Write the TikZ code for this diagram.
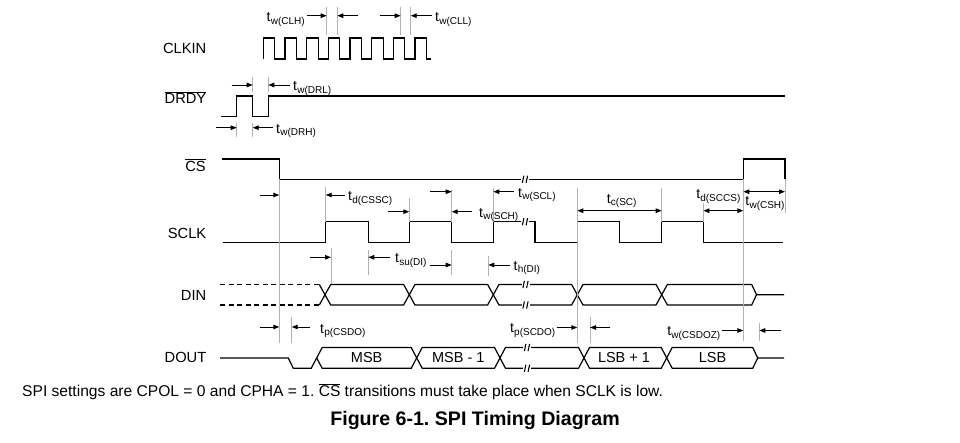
\documentclass[tikz,border=0pt]{standalone}
\usepackage{fontspec}
\setmainfont{Liberation Sans}
\usetikzlibrary{arrows.meta}
\frenchspacing
\newcommand\tsb[2]{#1\kern0.2pt\raisebox{-2.6pt}{\fontsize{10}{11}\selectfont #2}}
\newcommand\ovl[1]{$\overline{\mbox{#1}}$}
\newcommand\brk[2]{%
  \begin{scope}[shift={(#1,#2)}]
    \fill[white] (-4,-2.2) rectangle (4,2.2);
    \draw[line width=1.1pt] (-2.6,3.6) .. controls (-2.9,0.5) and (-0.9,-0.5) .. (-1.1,-3.6);
    \draw[line width=1.1pt] (1.1,3.6) .. controls (0.8,0.5) and (2.8,-0.5) .. (2.6,-3.6);
  \end{scope}}
\tikzset{
  sig/.style={line width=1.2pt, line join=miter},
  tk/.style={gray!60, line width=0.6pt},
  ar/.style={line width=0.9pt, -{Triangle[length=6pt,width=4.5pt]}},
  dar/.style={line width=0.9pt, {Triangle[length=6pt,width=4.5pt]}-{Triangle[length=6pt,width=4.5pt]}},
  lab/.style={font=\fontsize{14.7}{17}\selectfont, inner sep=0pt, anchor=east},
  tl/.style={font=\fontsize{14}{16}\selectfont, inner sep=0pt},
}
\begin{document}
\begin{tikzpicture}[x=1pt,y=-1pt]
\useasboundingbox[fill=white] (0,0) rectangle (960,443);

% ---------- signal names ----------
\node[lab] (nclk) at (206.5,48) {CLKIN};
\node[lab] (ndrdy) at (206.5,97.5) {\ovl{DRDY}};
\node[lab] (ncs) at (206,165) {\ovl{CS}};
\node[lab] (nsclk) at (206.5,233) {SCLK};
\node[lab] (ndin) at (206.5,295) {DIN};
\node[lab] (ndout) at (206.5,357) {DOUT};

% ---------- CLKIN ----------
\draw[sig] (263.3,59) \foreach \k in {0,...,6} { -- ++(0,-21) -- ++(11.5,0) -- ++(0,21) -- ++(10.17,0) }
  -- ++(0,-21) -- ++(11.5,0) -- ++(0,21) -- ++(5,0);
\draw[tk] (326.7,6.7) -- (326.7,35);
\draw[tk] (337.3,6.7) -- (337.3,35);
\draw[tk] (400.7,6.7) -- (400.7,35);
\draw[tk] (410.7,6.7) -- (410.7,35);
\draw[ar] (306.7,15.7) -- (326.7,15.7);
\draw[ar] (358.3,15.7) -- (337.3,15.7);
\draw[ar] (380,15.7) -- (400.7,15.7);
\draw[ar] (431.7,15.7) -- (410.7,15.7);
\node[tl,anchor=west] (lclh) at (266.5,19.5) {\tsb{t}{w(CLH)}};
\node[tl,anchor=west] (lcll) at (435,19.5) {\tsb{t}{w(CLL)}};

% ---------- DRDY ----------
\draw[sig] (221,116.7) -- (236.7,116.7) -- (236.7,96) -- (252.7,96) -- (252.7,116.7)
  -- (268.3,116.7) -- (268.3,96) -- (785,96);
\draw[tk] (252.7,77) -- (252.7,92);
\draw[tk] (268.3,77) -- (268.3,92);
\draw[ar] (231.7,85) -- (252.7,85);
\draw[ar] (290,85) -- (268.3,85);
\node[tl,anchor=west] (ldrl) at (293,88.5) {\tsb{t}{w(DRL)}};
\draw[tk] (236.7,123) -- (236.7,137);
\draw[tk] (252.7,123) -- (252.7,137);
\draw[ar] (216,127.7) -- (236.7,127.7);
\draw[ar] (273,127.7) -- (252.7,127.7);
\node[tl,anchor=west] (ldrh) at (276,131) {\tsb{t}{w(DRH)}};

% ---------- CS ----------
\draw[sig] (221.7,159) -- (279.3,159) -- (279.3,179.3) -- (743.3,179.3) -- (743.3,159) -- (785,159) -- (785,179.3);

% ---------- SCLK ----------
\draw[sig] (222.7,242.7) -- (325.7,242.7) -- (325.7,221.7) -- (368.3,221.7) -- (368.3,242.7)
  -- (409.3,242.7) -- (409.3,221.7) -- (451.7,221.7) -- (451.7,242.7)
  -- (493.3,242.7) -- (493.3,221.7) -- (535,221.7) -- (535,242.7)
  -- (577.3,242.7) -- (577.3,221.7) -- (619.3,221.7) -- (619.3,242.7)
  -- (661.7,242.7) -- (661.7,221.7) -- (703.3,221.7) -- (703.3,242.7) -- (783.3,242.7);

% ---------- DIN ----------
\draw[line width=1.1pt, dash pattern=on 5pt off 3.5pt] (220,284.5) -- (319.3,284.5);
\draw[line width=1.1pt, dash pattern=on 5pt off 3.5pt] (220,305) -- (319.3,305);
\draw[sig] (319.3,284.5) -- (330.7,305) -- (403.6,305) -- (415,284.5) -- (487.6,284.5) -- (499,305)
  -- (571.6,305) -- (583,284.5) -- (656,284.5) -- (667.4,305) -- (751.7,305) -- (756.5,294.7);
\draw[sig] (319.3,305) -- (330.7,284.5) -- (403.6,284.5) -- (415,305) -- (487.6,305) -- (499,284.5)
  -- (571.6,284.5) -- (583,305) -- (656,305) -- (667.4,284.5) -- (751.7,284.5) -- (756.5,294.7) -- (784,294.7);

% ---------- DOUT ----------
\draw[sig] (220,358) -- (288.3,358) -- (293.3,368.3) -- (311.2,368.3) -- (322.2,347.5)
  -- (411.2,347.5) -- (422.2,368.3) -- (494.5,368.3) -- (505.5,347.5) -- (578.5,347.5) -- (589.5,368.3)
  -- (661.2,368.3) -- (672.2,347.5) -- (752.7,347.5) -- (757.7,358) -- (784,358);
\draw[sig] (316.7,358) -- (322.2,368.3) -- (411.2,368.3) -- (422.2,347.5) -- (494.5,347.5) -- (505.5,368.3)
  -- (578.5,368.3) -- (589.5,347.5) -- (661.2,347.5) -- (672.2,368.3) -- (752.7,368.3) -- (757.7,358);
\node[tl,font=\fontsize{14.5}{17}\selectfont] (msb) at (366.7,358) {MSB};
\node[tl,font=\fontsize{14.5}{17}\selectfont] (msb1) at (458.3,358) {MSB - 1};
\node[tl,font=\fontsize{14.5}{17}\selectfont] (lsb1) at (624,358) {LSB + 1};
\node[tl,font=\fontsize{14.5}{17}\selectfont] (lsb) at (712.5,358) {LSB};

% ---------- break marks ----------
\brk{525}{179.3}
\brk{525}{221.7}
\brk{525.5}{284.5}
\brk{525.5}{305}
\brk{527}{347.5}
\brk{527}{368.3}

% ---------- timing reference lines ----------
\draw[tk] (279.3,179.3) -- (279.3,343);
\draw[tk] (325.7,186.7) -- (325.7,221.7);
\draw[tk] (409.3,198.3) -- (409.3,221.7);
\draw[tk] (451.7,190) -- (451.7,221.7);
\draw[tk] (493.3,188) -- (493.3,221.7);
\draw[tk] (577.3,188) -- (577.3,343);
\draw[tk] (661.7,188) -- (661.7,221.7);
\draw[tk] (703.3,203) -- (703.3,221.7);
\draw[tk] (743.3,179.3) -- (743.3,341);
\draw[tk] (785,179.3) -- (785,213);
\draw[tk] (331,248) -- (331,284.5);
\draw[tk] (368.3,250) -- (368.3,275);
\draw[tk] (451.7,250) -- (451.7,275);
\draw[tk] (488.3,256) -- (488.3,276);
\draw[tk] (291.7,316.7) -- (291.7,342.7);
\draw[tk] (590,316.7) -- (590,343);
\draw[tk] (759.3,322.7) -- (759.3,341);

% ---------- SCLK annotations ----------
\draw[ar] (260,195) -- (279.3,195);
\draw[ar] (345,195) -- (325.7,195);
\node[tl,anchor=west] (lcssc) at (348,198.5) {\tsb{t}{d(CSSC)}};
\draw[ar] (388,211.7) -- (409.3,211.7);
\draw[ar] (430,191.7) -- (451.7,191.7);
\draw[ar] (471.7,211.7) -- (451.7,211.7);
\node[tl,anchor=west] (lsch) at (479,215) {\tsb{t}{w(SCH)}};
\draw[ar] (514,191.7) -- (493.3,191.7);
\node[tl,anchor=west] (lscl) at (518,195) {\tsb{t}{w(SCL)}};
\draw[dar] (577.3,210.7) -- (661.7,210.7);
\node[tl] (lsc) at (621.7,201) {\tsb{t}{c(SC)}};
\draw[dar] (703.3,210.7) -- (743.3,210.7);
\node[tl] (lsccs) at (718.3,196.5) {\tsb{t}{d(SCCS)}};
\draw[dar] (743.3,191.7) -- (785,191.7);
\node[tl] (lcsh) at (765,203.5) {\tsb{t}{w(CSH)}};

% ---------- DIN annotations ----------
\draw[ar] (310,257.3) -- (331,257.3);
\draw[ar] (390,257.3) -- (368.3,257.3);
\node[tl,anchor=west] (lsu) at (395,260.5) {\tsb{t}{su(DI)}};
\draw[ar] (430,265) -- (451.7,265);
\draw[ar] (510,265) -- (488.3,265);
\node[tl,anchor=west] (lh) at (513.5,268) {\tsb{t}{h(DI)}};

% ---------- DOUT annotations ----------
\draw[ar] (260,327) -- (279.3,327);
\draw[ar] (310,327) -- (291.7,327);
\node[tl,anchor=west] (lcsdo) at (320,331) {\tsb{t}{p(CSDO)}};
\draw[ar] (556.7,327.5) -- (577.3,327.5);
\node[tl,anchor=east] (lscdo) at (555.5,330.5) {\tsb{t}{p(SCDO)}};
\draw[ar] (610,327.5) -- (590,327.5);
\draw[ar] (721.7,330.5) -- (743.3,330.5);
\node[tl,anchor=east] (lcsdoz) at (720.5,333.5) {\tsb{t}{w(CSDOZ)}};
\draw[ar] (780.7,330.5) -- (759.3,330.5);

% ---------- captions ----------
\node[tl,anchor=base west,font=\fontsize{15.6}{18}\selectfont] (note) at (22,396.7)
  {SPI settings are CPOL = 0 and CPHA = 1. \ovl{CS} transitions must take place when SCLK is low.};
\node[tl,anchor=base,font=\bfseries\fontsize{19.6}{22}\selectfont] (title) at (475,425)
  {Figure 6-1. SPI Timing Diagram};
\end{tikzpicture}
\end{document}
